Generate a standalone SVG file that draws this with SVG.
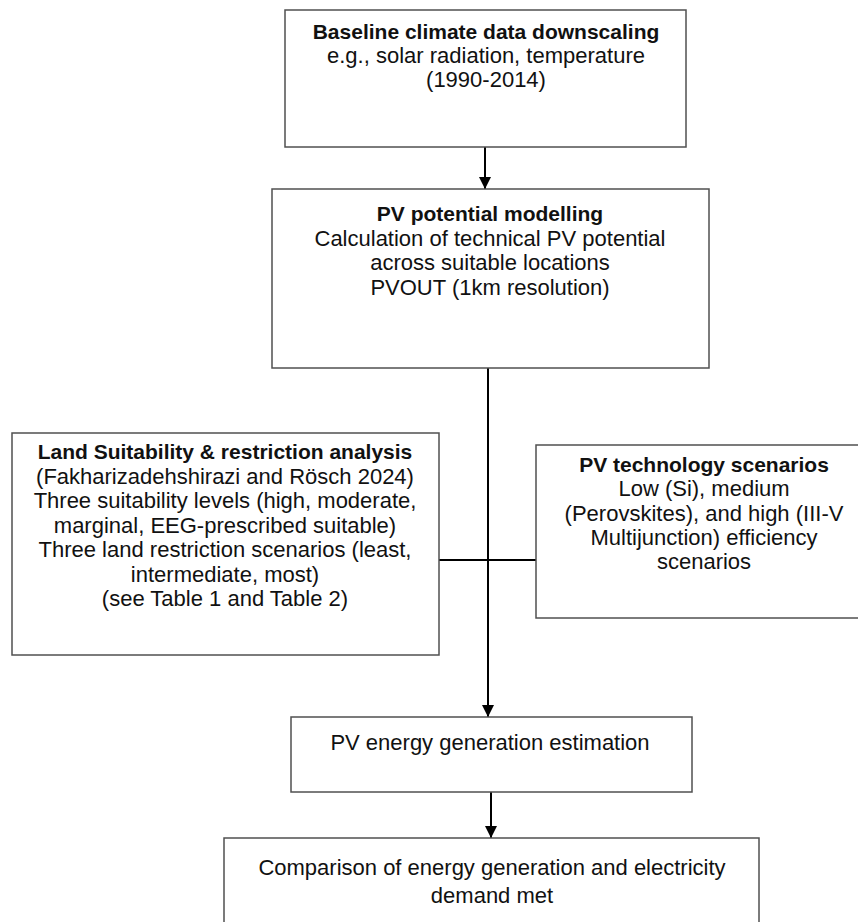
<svg xmlns="http://www.w3.org/2000/svg" width="858" height="922" viewBox="0 0 858 922">
<style>
.box{fill:#ffffff;stroke:#505050;stroke-width:1.5}
.t{font-family:"Liberation Sans",Arial,sans-serif;font-size:22px;fill:#111;text-anchor:middle}
.b{font-weight:bold;font-size:21px}
.c{stroke:#000;stroke-width:2;fill:none}
</style>
<defs>
<marker id="ah" viewBox="0 0 12 12" refX="12" refY="6" markerWidth="12" markerHeight="12" markerUnits="userSpaceOnUse" orient="auto">
<path d="M0,0 L12,6 L0,12 Z" fill="#000"/>
</marker>
</defs>
<rect width="858" height="922" fill="#ffffff"/>
<g id="connectors">
<line class="c" x1="485" y1="147" x2="485" y2="189" marker-end="url(#ah)"/>
<line class="c" x1="488" y1="368" x2="488" y2="717" marker-end="url(#ah)"/>
<line class="c" x1="439" y1="560" x2="536" y2="560"/>
<line class="c" x1="491" y1="792" x2="491" y2="838" marker-end="url(#ah)"/>
</g>
<g id="baseline">
<rect class="box" x="285" y="10" width="401" height="137"/>
<text class="t b" x="486" y="39">Baseline climate data downscaling</text>
<text class="t" x="486" y="63">e.g., solar radiation, temperature</text>
<text class="t" x="486" y="87">(1990-2014)</text>
</g>
<g id="pv-potential">
<rect class="box" x="272" y="189" width="437" height="179"/>
<text class="t b" x="490" y="221">PV potential modelling</text>
<text class="t" x="490" y="246">Calculation of technical PV potential</text>
<text class="t" x="490" y="270">across suitable locations</text>
<text class="t" x="490" y="295">PVOUT (1km resolution)</text>
</g>
<g id="land-suitability">
<rect class="box" x="12" y="433" width="427" height="222"/>
<text class="t b" x="225" y="459">Land Suitability &amp; restriction analysis</text>
<text class="t" x="225" y="483.5">(Fakharizadehshirazi and Rösch 2024)</text>
<text class="t" x="225" y="508">Three suitability levels (high, moderate,</text>
<text class="t" x="225" y="532.5">marginal, EEG-prescribed suitable)</text>
<text class="t" x="225" y="557">Three land restriction scenarios (least,</text>
<text class="t" x="225" y="581.5">intermediate, most)</text>
<text class="t" x="225" y="606">(see Table 1 and Table 2)</text>
</g>
<g id="pv-technology">
<rect class="box" x="536" y="445" width="336" height="173"/>
<text class="t b" x="704" y="472">PV technology scenarios</text>
<text class="t" x="704" y="496">Low (Si), medium</text>
<text class="t" x="704" y="520.5">(Perovskites), and high (III-V</text>
<text class="t" x="704" y="545">Multijunction) efficiency</text>
<text class="t" x="704" y="569">scenarios</text>
</g>
<g id="energy-generation">
<rect class="box" x="291" y="717" width="401" height="75"/>
<text class="t" x="490" y="750">PV energy generation estimation</text>
</g>
<g id="comparison">
<rect class="box" x="224" y="838" width="535" height="110"/>
<text class="t" x="492" y="875">Comparison of energy generation and electricity</text>
<text class="t" x="492" y="903">demand met</text>
</g>
</svg>
